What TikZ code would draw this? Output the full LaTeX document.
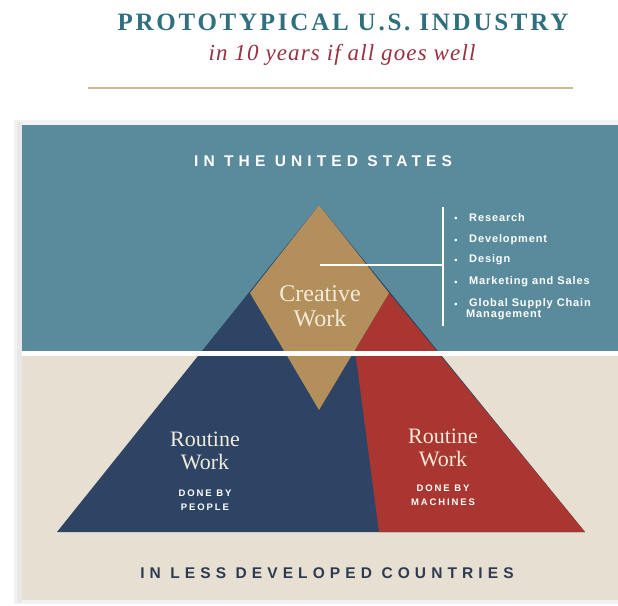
\documentclass[tikz,border=0pt]{standalone}
\usepackage{fontspec}
\setmainfont{Liberation Serif}
\newfontfamily\titlefont[LetterSpace=11]{Liberation Serif}
\newfontfamily\subfont[LetterSpace=5]{Liberation Serif}
\newfontfamily\capsfont[LetterSpace=33]{Liberation Sans}
\newfontfamily\smallcapsfont[LetterSpace=20]{Liberation Sans}
\newfontfamily\listfont[LetterSpace=8]{Liberation Sans}
\definecolor{titleteal}{HTML}{2F6F80}
\definecolor{subred}{HTML}{9A3040}
\definecolor{rulekhaki}{HTML}{C8B98E}
\definecolor{panelblue}{HTML}{5A8B9C}
\definecolor{panelbeige}{HTML}{E7E0D2}
\definecolor{pyrnavy}{HTML}{2D4465}
\definecolor{pyrred}{HTML}{A93630}
\definecolor{pyrtan}{HTML}{B38F5C}
\definecolor{creamtext}{HTML}{F3EBD9}
\definecolor{bottomnavy}{HTML}{2E3A52}
\tikzset{
  worklabel/.style={font=\fontsize{24}{25}\selectfont, text=creamtext, align=center, inner sep=0pt},
  routinelabel/.style={font=\fontsize{22}{23}\selectfont, text=creamtext, align=center, inner sep=0pt},
  donelabel/.style={font=\smallcapsfont\bfseries\fontsize{9.5}{14}\selectfont, text=white, align=center, inner sep=0pt},
  banner/.style={font=\capsfont\bfseries\fontsize{15.5}{17}\selectfont, inner sep=0pt},
  listitem/.style={font=\listfont\bfseries\fontsize{11}{12}\selectfont, text=white, anchor=west, inner sep=0pt, align=left},
  bulletdot/.style={font=\listfont\bfseries\fontsize{9}{10}\selectfont, text=white, inner sep=0pt},
  whiteline/.style={draw=white, line width=1.6pt}
}
\begin{document}
\begin{tikzpicture}[x=1pt,y=-1pt]
\useasboundingbox (0,0) rectangle (618,605);
\fill[white] (0,0) rectangle (618,605);
% soft shadow of the panel
\fill[black!5] (14,120) rectangle (618,604);
\fill[black!9] (17,122) rectangle (22,603);
% panels
\fill[panelblue] (22,125) rectangle (618,351);
\fill[panelbeige] (22,356) rectangle (618,600);
% title
\node[font=\titlefont\bfseries\fontsize{25}{27}\selectfont, text=titleteal, inner sep=0pt] (title) at (343,22) {PROTOTYPICAL U.S. INDUSTRY};
\node[font=\subfont\itshape\fontsize{23}{25}\selectfont, text=subred, inner sep=0pt] (subtitle) at (342,55) {in 10 years if all goes well};
\coordinate (ruleL) at (88,88);
\coordinate (ruleR) at (573,88);
\draw[rulekhaki, line width=1.8pt] (ruleL) -- (ruleR);
% pyramid
\coordinate (apex) at (319,205);
\coordinate (baseL) at (57,532);
\coordinate (baseR) at (585,532);
\coordinate (baseM) at (379,532);
\coordinate (dL) at (250,293);
\coordinate (dR) at (389,293);
\coordinate (dB) at (319,410);
\coordinate (dSplit) at (355,350);
\fill[pyrnavy] (apex) -- (baseL) -- (baseR) -- cycle;
\fill[pyrred] (dR) -- (dSplit) -- (baseM) -- (baseR) -- cycle;
\fill[pyrtan] (apex) -- (dL) -- (dB) -- (dR) -- cycle;
% white separator across the panel
\fill[white] (22,351) rectangle (618,356);
% banners
\node[banner, text=white] (us) at (323,161) {IN THE UNITED STATES};
\node[banner, text=bottomnavy] (ldc) at (327,573) {IN LESS DEVELOPED COUNTRIES};
% labels
\node[worklabel] (creative) at (320,306) {Creative\\Work};
\node[routinelabel] (routineL) at (205,451) {Routine\\Work};
\node[donelabel] (peopleL) at (205,500) {DONE BY\\PEOPLE};
\node[routinelabel] (routineR) at (443,448) {Routine\\Work};
\node[donelabel] (machR) at (443,495) {DONE BY\\MACHINES};
% bracket and list
\coordinate (brTop) at (443,207);
\coordinate (brBot) at (443,326);
\coordinate (brMid) at (443,265);
\coordinate (dCenter) at (320,265);
\draw[whiteline] (brTop) -- (brBot);
\draw[whiteline] (dCenter) -- (brMid);
\foreach \y/\t/\n in {218/Research/i1, 240/Development/i2, 260/Design/i3, 282/Marketing and Sales/i4}{
  \node[bulletdot] (b\n) at (456,\y+1) {\textbullet};
  \node[listitem] (\n) at (469,\y) {\t};
}
\node[bulletdot] (bi5) at (456,305) {\textbullet};
\node[listitem, anchor=north west] (i5) at (469,298) {Global Supply Chain\\[-1pt]\hspace*{-3pt}Management};
\end{tikzpicture}
\end{document}
